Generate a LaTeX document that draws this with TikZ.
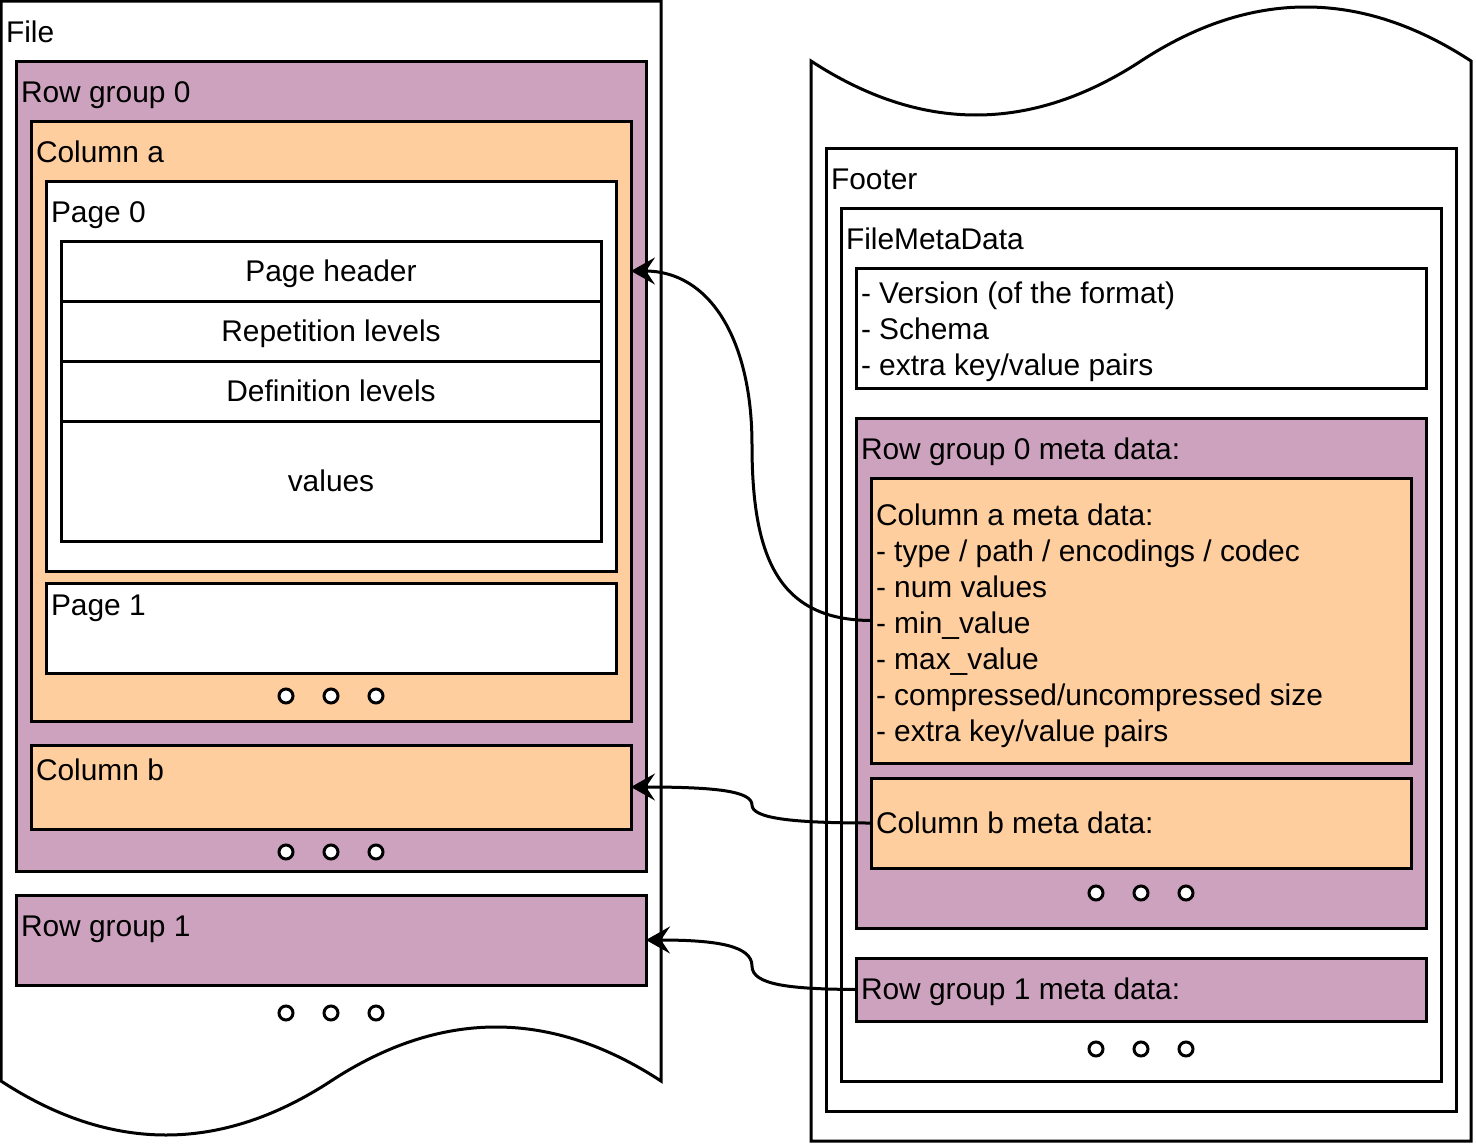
\documentclass[tikz,border=0pt]{standalone}
\usepackage{fontspec}
\setmainfont{Liberation Sans}
\usetikzlibrary{arrows.meta,calc}
\definecolor{rgfill}{HTML}{CDA2BE}
\definecolor{colfill}{HTML}{FFCE9F}
\begin{document}
\begin{tikzpicture}[x=1pt,y=-1pt,
  box/.style={draw=black, line width=3pt, inner sep=0pt, outer sep=0pt, anchor=north west, fill=white},
  rgbox/.style={box, fill=rgfill},
  colbox/.style={box, fill=colfill},
  lbl/.style={anchor=base west, inner sep=0pt, outer sep=0pt, font=\fontsize{29.9}{36}\selectfont},
  lblc/.style={lbl, anchor=base},
  bigdot/.style={circle, draw=black, fill=white, line width=3pt, minimum size=14pt, inner sep=0pt},
  link/.style={line width=3pt, -{Stealth[length=24pt 0 0,width=27pt 0 0,inset=9pt 0 0]}},
  docshape/.style={draw=black, line width=3pt, fill=white}
]
\useasboundingbox (0,0) rectangle (1476,1146);

% ---------- left document shape: File ----------
\draw[docshape] (1,1) -- (661,1) -- (661,1081)
  .. controls (551,1009) and (441,1009) .. (331,1081)
  .. controls (221,1153) and (111,1153) .. (1,1081) -- cycle;
\node[lbl] (fileT) at (6,42) {File};

\node[rgbox, minimum width=630pt, minimum height=810pt] (rg0) at (16,61) {};
\node[lbl] (rg0T) at (21,102) {Row group 0};

\node[colbox, minimum width=600pt, minimum height=600pt] (cola) at (31,121) {};
\node[lbl] (colaT) at (36,162) {Column a};

\node[box, minimum width=570pt, minimum height=390pt] (page0) at (46,181) {};
\node[lbl] (page0T) at (51,222) {Page 0};

\node[box, minimum width=540pt, minimum height=60pt] (ph) at (61,241) {};
\node[lblc] (phT) at (331,281) {Page header};
\node[box, minimum width=540pt, minimum height=60pt] (rl) at (61,301) {};
\node[lblc] (rlT) at (331,341) {Repetition levels};
\node[box, minimum width=540pt, minimum height=60pt] (dl) at (61,361) {};
\node[lblc] (dlT) at (331,401) {Definition levels};
\node[box, minimum width=540pt, minimum height=120pt] (vals) at (61,421) {};
\node[lblc] (valsT) at (331,491) {values};

\node[box, minimum width=570pt, minimum height=90pt] (page1) at (46,583) {};
\node[lbl] (page1T) at (51,615) {Page 1};

\node[bigdot] (d1) at (286,696) {};
\node[bigdot] (d2) at (331,696) {};
\node[bigdot] (d3) at (376,696) {};

\node[colbox, minimum width=600pt, minimum height=84pt] (colb) at (31,745) {};
\node[lbl] (colbT) at (36,780) {Column b};

\node[bigdot] (d4) at (286,852) {};
\node[bigdot] (d5) at (331,852) {};
\node[bigdot] (d6) at (376,852) {};

\node[rgbox, minimum width=630pt, minimum height=90pt] (rg1) at (16,895) {};
\node[lbl] (rg1T) at (21,936) {Row group 1};

\node[bigdot] (d7) at (286,1013) {};
\node[bigdot] (d8) at (331,1013) {};
\node[bigdot] (d9) at (376,1013) {};

% ---------- right document shape: Footer ----------
\draw[docshape] (811,61)
  .. controls (921,133) and (1031,133) .. (1141,61)
  .. controls (1251,-11) and (1361,-11) .. (1471,61)
  -- (1471,1141) -- (811,1141) -- cycle;

\node[box, minimum width=630pt, minimum height=963pt] (footer) at (826,148) {};
\node[lbl] (footerT) at (831,189) {Footer};

\node[box, minimum width=600pt, minimum height=873pt] (fmd) at (841,208) {};
\node[lbl] (fmdT) at (846,249) {FileMetaData};

\node[box, minimum width=570pt, minimum height=120pt] (ver) at (856,268) {};
% base anchor of a multi-line node = baseline of its last line
\node[lbl, align=left] (verT) at (861,375) {- Version (of the format)\\- Schema\\- extra key/value pairs};

\node[rgbox, minimum width=570pt, minimum height=510pt] (rg0m) at (856,418) {};
\node[lbl] (rg0mT) at (861,459) {Row group 0 meta data:};

\node[colbox, minimum width=540pt, minimum height=285pt] (cam) at (871,478) {};
\node[lbl, align=left] (camT) at (876,741) {Column a meta data:\\- type / path / encodings / codec\\- num values\\- min\_value\\- max\_value\\- compressed/uncompressed size\\- extra key/value pairs};

\node[colbox, minimum width=540pt, minimum height=90pt] (cbm) at (871,778) {};
\node[lbl] (cbmT) at (876,833) {Column b meta data:};

\node[bigdot] (e1) at (1096,893) {};
\node[bigdot] (e2) at (1141,893) {};
\node[bigdot] (e3) at (1186,893) {};

\node[rgbox, minimum width=570pt, minimum height=63pt] (rg1m) at (856,958) {};
\node[lbl] (rg1mT) at (861,999) {Row group 1 meta data:};

\node[bigdot] (e4) at (1096,1049) {};
\node[bigdot] (e5) at (1141,1049) {};
\node[bigdot] (e6) at (1186,1049) {};

% ---------- connectors ----------
\draw[link] (cam.west) .. controls (780,620) and (752,560) .. (752,445)
  .. controls (752,340) and (710,271) .. (cola.east |- ph.center);
\draw[link] (cbm.west) .. controls (790,823) and (752,818) .. (752,805)
  .. controls (752,791) and (715,787) .. (colb.east);
\draw[link] (rg1m.west) .. controls (790,989) and (752,985) .. (752,966)
  .. controls (752,946) and (718,940) .. (rg1.east);
\end{tikzpicture}
\end{document}
